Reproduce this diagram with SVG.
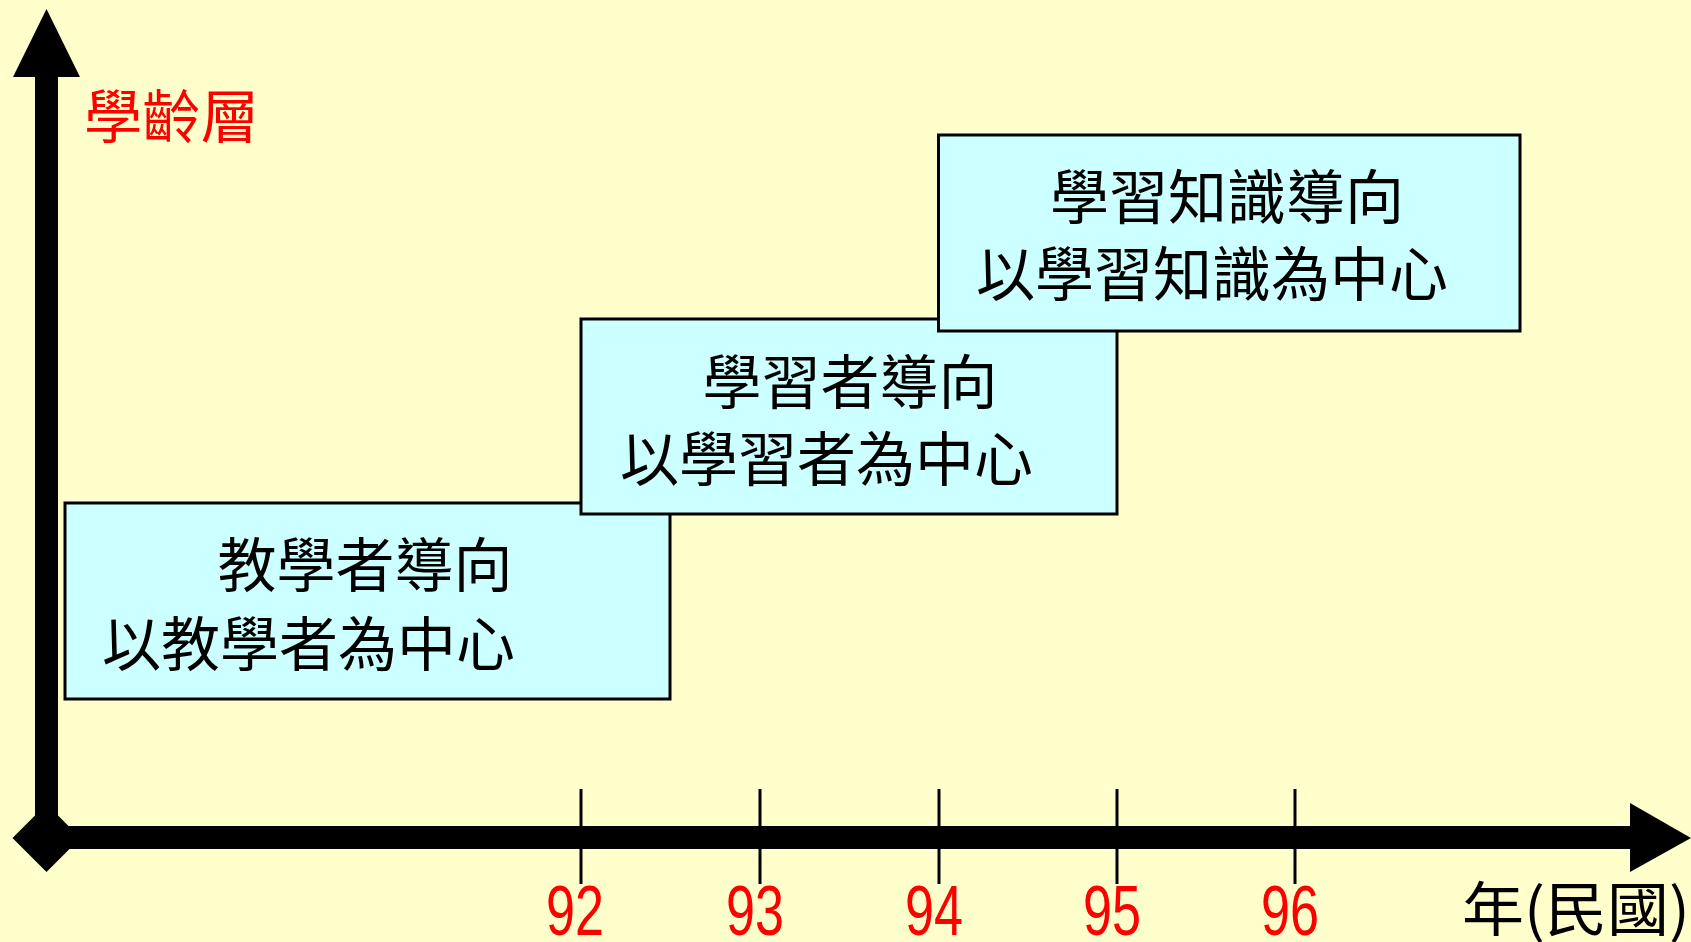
<svg xmlns="http://www.w3.org/2000/svg" width="1691" height="942" viewBox="0 0 1691 942">
<style>
.box{fill:#CCFFFF;stroke:#000;stroke-width:3}
.t{font-family:"Noto Sans CJK TC","Noto Sans CJK SC",sans-serif;font-size:59px;fill:#000}
.red{font-family:"Noto Sans CJK TC",sans-serif;font-size:58px;fill:#FF0000}
.num{font-family:"Liberation Sans",Arial,sans-serif;font-size:70px;fill:#FF0000}
.tick{stroke:#000;stroke-width:3}
</style>
<rect x="0" y="0" width="1691" height="942" fill="#FFFFCC"/>
<g id="axes">
<rect x="35" y="70" width="23" height="770"/>
<polygon points="13,77 46.5,9 80,77"/>
<rect x="46" y="826" width="1588" height="23"/>
<polygon points="1630,803 1691,838 1630,872"/>
<polygon points="46.5,804 80.5,838 46.5,872 12.5,838"/>
<line class="tick" x1="581" y1="789" x2="581" y2="884"/>
<line class="tick" x1="760" y1="789" x2="760" y2="884"/>
<line class="tick" x1="939" y1="789" x2="939" y2="884"/>
<line class="tick" x1="1117" y1="789" x2="1117" y2="884"/>
<line class="tick" x1="1295" y1="789" x2="1295" y2="884"/>
<text class="num" x="546" y="935" textLength="58" lengthAdjust="spacingAndGlyphs">92</text>
<text class="num" x="726" y="935" textLength="58" lengthAdjust="spacingAndGlyphs">93</text>
<text class="num" x="905" y="935" textLength="58" lengthAdjust="spacingAndGlyphs">94</text>
<text class="num" x="1083" y="935" textLength="58" lengthAdjust="spacingAndGlyphs">95</text>
<text class="num" x="1261" y="935" textLength="58" lengthAdjust="spacingAndGlyphs">96</text>
<text class="red" x="84" y="138" textLength="175" lengthAdjust="spacingAndGlyphs">學齡層</text>
<text class="t" x="1462" y="931" font-size="58" textLength="228" lengthAdjust="spacingAndGlyphs">年(民國)</text>
</g>
<g id="node1">
<rect class="box" x="65" y="503" width="605" height="196"/>
<text class="t" x="365" y="587" text-anchor="middle">教學者導向</text>
<text class="t" x="102" y="666">以教學者為中心</text>
</g>
<g id="node2">
<rect class="box" x="581" y="319" width="536" height="195"/>
<text class="t" x="850" y="404" text-anchor="middle">學習者導向</text>
<text class="t" x="620" y="481">以學習者為中心</text>
</g>
<g id="node3">
<rect class="box" x="938.5" y="135" width="581.5" height="196"/>
<text class="t" x="1227" y="219" text-anchor="middle">學習知識導向</text>
<text class="t" x="976" y="296">以學習知識為中心</text>
</g>
</svg>
